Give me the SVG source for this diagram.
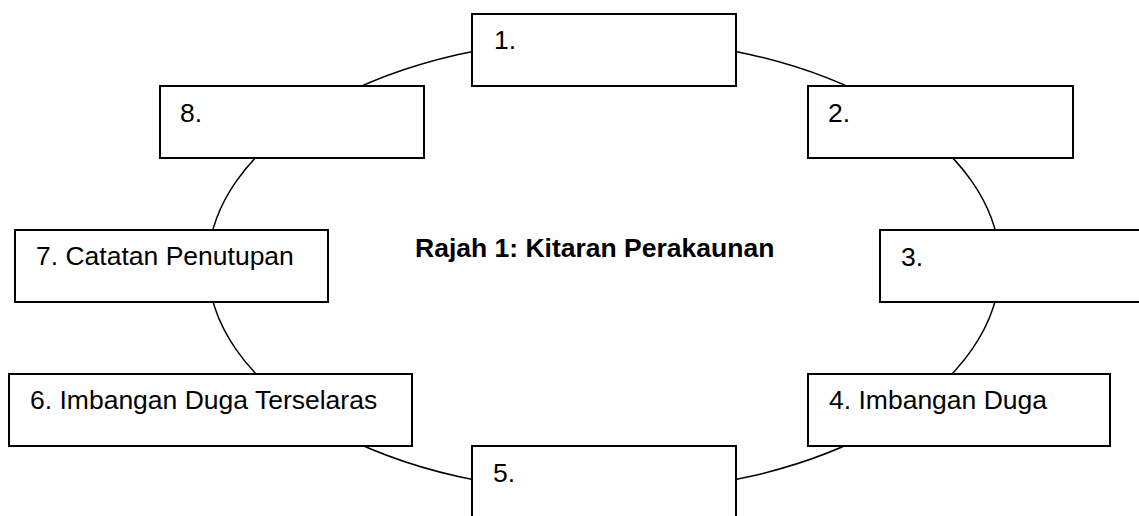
<svg xmlns="http://www.w3.org/2000/svg" width="1139" height="516" viewBox="0 0 1139 516">
<style>
.box{fill:#fff;stroke:#000;stroke-width:2}
.t{font-family:"Liberation Sans",Arial,sans-serif;font-size:26.5px;fill:#000}
.title{font-family:"Liberation Sans",Arial,sans-serif;font-size:26.5px;font-weight:bold;fill:#000}
.conn{fill:none;stroke:#000;stroke-width:1.5}
</style>
<rect width="1139" height="516" fill="#fff"/>
<g id="connectors">
<ellipse class="conn" cx="604" cy="265.5" rx="396" ry="227"/>
</g>
<g id="title"><text class="title" x="415" y="257">Rajah 1: Kitaran Perakaunan</text></g>
<g id="node1"><rect class="box" x="472" y="14" width="264" height="72"/><text class="t" x="494" y="49">1.</text></g>
<g id="node2"><rect class="box" x="808" y="86" width="265" height="72"/><text class="t" x="828" y="122">2.</text></g>
<g id="node3"><rect class="box" x="880" y="230" width="270" height="72"/><text class="t" x="901" y="266">3.</text></g>
<g id="node4"><rect class="box" x="808" y="374" width="302" height="72"/><text class="t" x="829" y="409">4. Imbangan Duga</text></g>
<g id="node5"><rect class="box" x="472" y="446" width="264" height="80"/><text class="t" x="493" y="482">5.</text></g>
<g id="node6"><rect class="box" x="9" y="374" width="403" height="72"/><text class="t" x="30" y="409">6. Imbangan Duga Terselaras</text></g>
<g id="node7"><rect class="box" x="15" y="230" width="313" height="72"/><text class="t" x="36" y="265">7. Catatan Penutupan</text></g>
<g id="node8"><rect class="box" x="160" y="86" width="264" height="72"/><text class="t" x="180" y="122">8.</text></g>
</svg>
